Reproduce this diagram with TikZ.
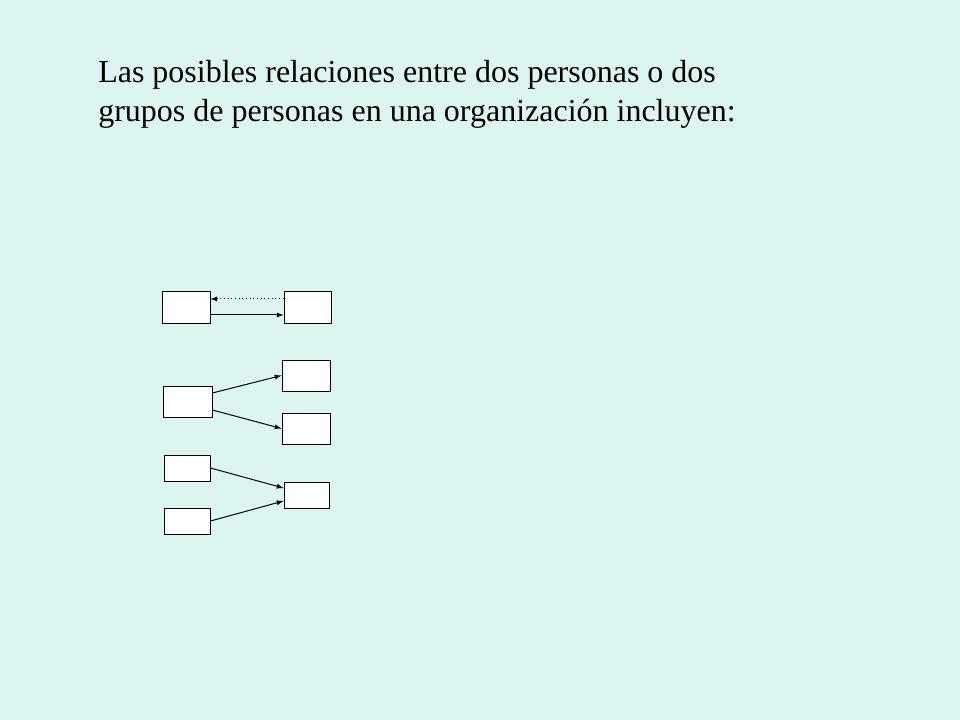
\documentclass[tikz,border=0pt]{standalone}
\usepackage{fontspec}
\setmainfont{Liberation Serif}
\definecolor{fondo}{RGB}{221,245,241}
\usepackage{tikz}

\tikzset{
  caja/.style={draw, fill=white, line width=0.75pt, inner sep=0pt,
    minimum width=36pt, minimum height=23.25pt},
  flecha/.style={-latex, line width=0.75pt}
}

\begin{document}
\begin{tikzpicture}[x=0.75pt, y=-0.75pt]
\fill[fondo] (0,0) rectangle (960,720);
\useasboundingbox (0,0) rectangle (960,720);

\node[anchor=base west, font=\fontsize{24}{29}\selectfont, inner sep=0pt] (linea1) at (98,83) {Las posibles relaciones entre dos personas o dos};
\node[anchor=base west, font=\fontsize{24}{29}\selectfont, inner sep=0pt] (linea2) at (98,122) {grupos de personas en una organización incluyen:};

% uno a uno
\node[caja] (a1) at (186,307.5) {};
\node[caja, minimum width=35.25pt] (a2) at (307.5,307.5) {};
\draw[flecha, dotted] ([yshift=6.4pt]a2.west) -- ([yshift=6.4pt]a1.east);
\draw[flecha] ([yshift=-5.6pt]a1.east) -- ([yshift=-5.6pt]a2.west);

% uno a varios
\node[caja, minimum width=36.75pt] (b1) at (187.5,401.5) {};
\node[caja] (b2) at (306,375.5) {};
\node[caja] (b3) at (306,428.5) {};
\draw[flecha] ([yshift=6.4pt]b1.east) -- (b2.west);
\draw[flecha] ([yshift=-6.4pt]b1.east) -- (b3.west);

% varios a uno
\node[caja, minimum width=34.5pt, minimum height=19.5pt] (c1) at (187,468) {};
\node[caja, minimum width=34.5pt, minimum height=19.5pt] (c2) at (187,521) {};
\node[caja, minimum width=33.75pt, minimum height=19.5pt] (c3) at (306.5,495) {};
\draw[flecha] (c1.east) -- ([yshift=5.25pt]c3.west);
\draw[flecha] (c2.east) -- ([yshift=-4.5pt]c3.west);
%\draw (current bounding box.south west) rectangle (current bounding box.north east);
\end{tikzpicture}
\end{document}
